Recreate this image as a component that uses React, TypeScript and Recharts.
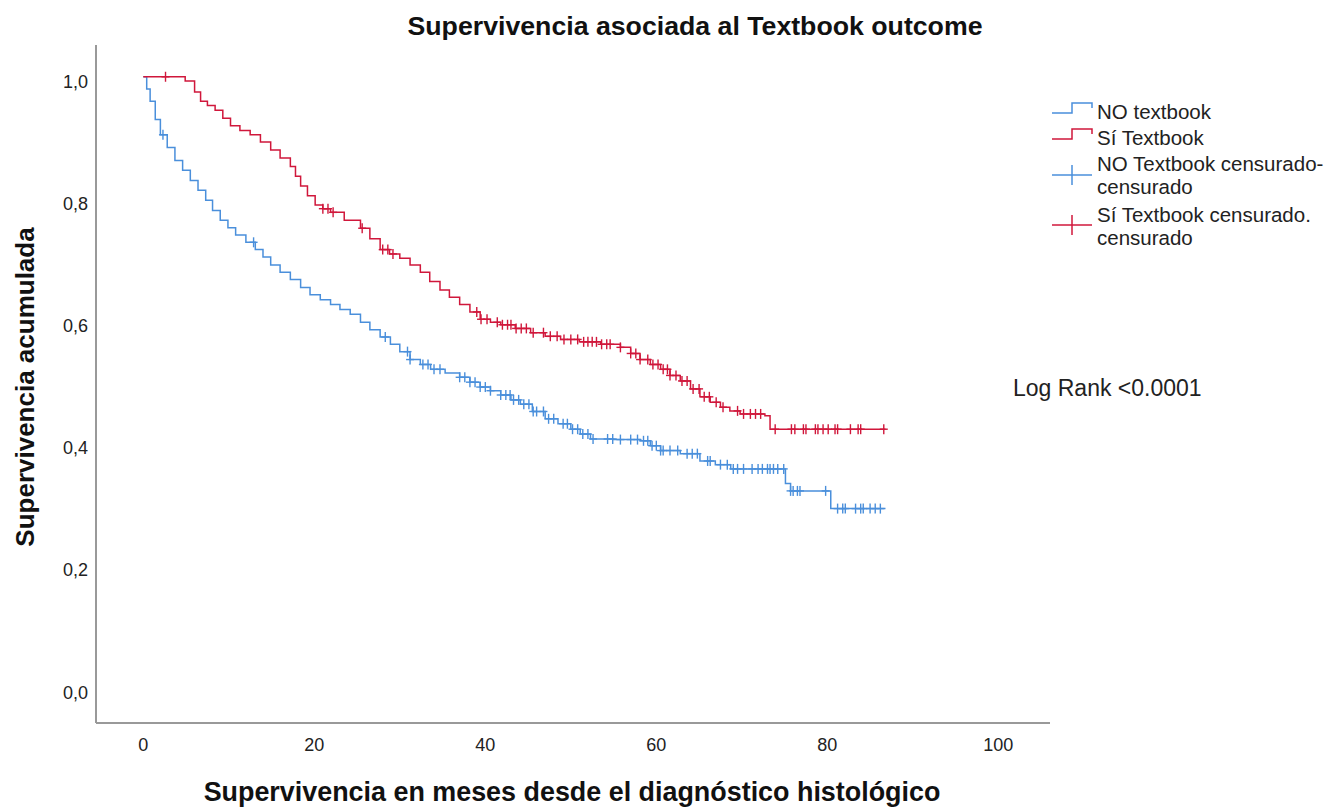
import React from "react";
import { ComposedChart, Line, Scatter, XAxis, YAxis } from "recharts";

// Kaplan-Meier step data
const redT = [0, 4.9, 6.0, 6.7, 7.5, 8.4, 9.3, 10.2, 11.3, 12.5, 13.7, 14.9, 16.0, 17.2, 17.8, 18.4, 19.2, 20.1, 21.0, 21.9, 23.5, 25.4, 26.5, 27.7, 28.8, 30.0, 31.2, 32.4, 33.5, 34.7, 35.8, 37.0, 38.2, 39.4, 40.6, 41.8, 43.5, 45.3, 47.0, 48.8, 51.0, 53.5, 55.8, 57.0, 58.1, 59.3, 60.5, 61.6, 62.8, 64.0, 65.1, 66.3, 67.5, 68.6, 69.8, 72.7, 73.3, 86.8];
const redS = [1.0, 0.993, 0.975, 0.96, 0.953, 0.945, 0.932, 0.92, 0.912, 0.905, 0.893, 0.88, 0.867, 0.853, 0.837, 0.821, 0.805, 0.79, 0.784, 0.778, 0.765, 0.752, 0.735, 0.717, 0.71, 0.703, 0.692, 0.68, 0.665, 0.651, 0.639, 0.627, 0.615, 0.603, 0.598, 0.594, 0.588, 0.581, 0.575, 0.57, 0.566, 0.562, 0.557, 0.547, 0.537, 0.529, 0.521, 0.511, 0.502, 0.489, 0.476, 0.467, 0.459, 0.453, 0.448, 0.445, 0.423, 0.423];

const blueT = [0, 0.4, 0.8, 1.4, 2.0, 2.8, 3.7, 4.6, 5.5, 6.4, 7.3, 8.1, 9.0, 9.9, 10.8, 12.0, 13.1, 14.0, 14.9, 16.0, 17.2, 18.4, 19.5, 20.7, 21.9, 23.0, 24.2, 25.4, 26.5, 27.7, 28.9, 30.0, 31.2, 32.4, 33.6, 35.3, 37.0, 38.2, 39.4, 40.6, 41.8, 43.0, 44.1, 45.5, 47.0, 48.5, 50.0, 51.1, 52.3, 55.0, 58.1, 59.3, 60.5, 62.8, 65.1, 66.9, 68.7, 74.5, 75.1, 75.7, 79.8, 80.4, 86.8];
const blueS = [1.0, 0.98, 0.96, 0.93, 0.905, 0.884, 0.863, 0.847, 0.83, 0.814, 0.798, 0.781, 0.765, 0.753, 0.741, 0.729, 0.717, 0.705, 0.692, 0.68, 0.668, 0.655, 0.643, 0.635, 0.627, 0.619, 0.611, 0.598, 0.586, 0.574, 0.562, 0.55, 0.537, 0.529, 0.521, 0.515, 0.508, 0.5, 0.492, 0.486, 0.479, 0.471, 0.464, 0.452, 0.44, 0.432, 0.423, 0.415, 0.407, 0.406, 0.404, 0.396, 0.388, 0.383, 0.371, 0.365, 0.358, 0.358, 0.334, 0.322, 0.322, 0.293, 0.293];

// Censored times
const redCensT = [2.6, 21.0, 21.6, 22.2, 25.6, 28.0, 28.6, 29.2, 39.0, 39.5, 40.2, 41.4, 42.0, 42.6, 43.0, 43.6, 44.2, 44.8, 45.6, 46.8, 47.6, 48.4, 49.2, 50.0, 50.8, 51.5, 52.0, 52.5, 53.0, 53.6, 54.2, 54.6, 55.8, 57.0, 57.6, 58.1, 59.0, 59.6, 60.2, 60.8, 61.3, 61.6, 62.3, 63.0, 63.6, 64.3, 65.0, 65.6, 66.2, 67.0, 67.8, 69.5, 70.2, 71.0, 71.6, 72.2, 73.9, 75.8, 76.2, 77.2, 77.5, 78.6, 78.9, 79.5, 80.1, 80.9, 81.2, 82.7, 83.6, 83.9, 86.6];
const blueCensT = [2.3, 12.9, 28.3, 30.9, 31.2, 32.7, 33.3, 34.0, 34.7, 37.0, 37.6, 38.2, 38.8, 39.4, 40.0, 40.6, 41.8, 42.4, 42.9, 43.3, 43.9, 44.5, 45.1, 45.6, 46.0, 46.8, 47.4, 48.0, 49.1, 49.6, 50.2, 50.8, 51.4, 52.0, 52.6, 54.3, 54.9, 55.8, 57.0, 57.8, 58.5, 59.0, 59.5, 60.0, 60.5, 60.8, 61.6, 62.5, 63.6, 64.2, 64.8, 66.0, 66.3, 67.5, 68.3, 69.0, 69.5, 70.2, 71.2, 71.9, 72.4, 73.0, 73.3, 73.7, 74.2, 74.9, 75.7, 76.0, 76.5, 76.8, 79.8, 81.2, 81.8, 82.1, 83.3, 83.9, 84.2, 85.0, 85.6, 86.2];

const xTicks = [0, 20, 40, 60, 80, 100];
const yTicks = [0, 0.2, 0.4, 0.6, 0.8, 1.0];

const legendLabels = ["NO textbook", "Sí Textbook", "NO Textbook censurado-", "censurado", "Sí Textbook censurado.", "censurado"];

const RED = "#d0173b";
const BLUE = "#4a8fdb";
const FONT = "'Liberation Sans', Arial, sans-serif";

const toData = (T: number[], S: number[]) => T.map((t, i) => ({ t, s: S[i] }));
const survAt = (T: number[], S: number[], t: number) => {
  let v = S[0];
  for (let i = 0; i < T.length; i++) if (T[i] <= t) v = S[i];
  return v;
};

const redData = toData(redT, redS);
const blueData = toData(blueT, blueS);
const redCens = redCensT.map((t) => ({ t, s: survAt(redT, redS, t) }));
const blueCens = blueCensT.map((t) => ({ t, s: survAt(blueT, blueS, t) }));

const makeCross = (color: string) => (props: any) => {
  const { cx, cy } = props;
  if (cx == null || cy == null) return <g />;
  return (
    <g stroke={color} strokeWidth={1.4}>
      <line x1={cx - 4} y1={cy} x2={cx + 4} y2={cy} />
      <line x1={cx} y1={cy - 5} x2={cx} y2={cy + 5} />
    </g>
  );
};

const YTick = (props: any) => {
  const { x, y, payload } = props;
  return (
    <text x={x} y={y + 11} textAnchor="end" fontSize={18} fontFamily={FONT} fill="#222">
      {payload.value.toFixed(1).replace(".", ",")}
    </text>
  );
};

const XTick = (props: any) => {
  const { x, y, payload } = props;
  return (
    <text x={x} y={y + 20} textAnchor="middle" fontSize={18} fontFamily={FONT} fill="#222">
      {payload.value}
    </text>
  );
};

const LegendBlock = () => {
  const t = (txt: string, y: number) => (
    <text x={1097} y={y} fontSize={20.5} fontFamily={FONT} fill="#222">{txt}</text>
  );
  return (
    <g>
      <polyline points="1052,113 1072,113 1072,103 1092,103 1092,108" fill="none" stroke={BLUE} strokeWidth={1.5} />
      {t(legendLabels[0], 119)}
      <polyline points="1052,139 1072,139 1072,129 1092,129 1092,134" fill="none" stroke={RED} strokeWidth={1.5} />
      {t(legendLabels[1], 145)}
      <line x1={1052} y1={175} x2={1092} y2={175} stroke={BLUE} strokeWidth={1.5} />
      <line x1={1072} y1={165} x2={1072} y2={185} stroke={BLUE} strokeWidth={1.5} />
      {t(legendLabels[2], 171)}
      {t(legendLabels[3], 194)}
      <line x1={1052} y1={225} x2={1092} y2={225} stroke={RED} strokeWidth={1.5} />
      <line x1={1072} y1={215} x2={1072} y2={235} stroke={RED} strokeWidth={1.5} />
      {t(legendLabels[4], 222)}
      {t(legendLabels[5], 245)}
    </g>
  );
};

export default function App() {
  return (
    <div style={{ position: "absolute", left: 0, top: 0, width: 1343, height: 807, background: "#fff" }}>
      <ComposedChart width={1343} height={807} margin={{ top: 45, right: 293, bottom: 54, left: 36 }}>
        <XAxis
          dataKey="t"
          type="number"
          domain={[-5.53, 106.04]}
          ticks={xTicks}
          allowDataOverflow
          tickLine={false}
          axisLine={{ stroke: "#999", strokeWidth: 2 }}
          tick={<XTick />}
          height={30}
        />
        <YAxis
          dataKey="s"
          type="number"
          domain={[-0.058, 1.052]}
          ticks={yTicks}
          allowDataOverflow
          tickLine={false}
          axisLine={{ stroke: "#999", strokeWidth: 2 }}
          tick={<YTick />}
          width={60}
        />
        <Line data={blueData} dataKey="s" type="stepAfter" stroke={BLUE} strokeWidth={1.5} dot={false} isAnimationActive={false} legendType="none" />
        <Line data={redData} dataKey="s" type="stepAfter" stroke={RED} strokeWidth={1.5} dot={false} isAnimationActive={false} legendType="none" />
        <Scatter data={blueCens} dataKey="s" shape={makeCross(BLUE)} isAnimationActive={false} legendType="none" />
        <Scatter data={redCens} dataKey="s" shape={makeCross(RED)} isAnimationActive={false} legendType="none" />
      </ComposedChart>
      <svg width={1343} height={807} style={{ position: "absolute", left: 0, top: 0, pointerEvents: "none" }}>
        <text x={695} y={35} textAnchor="middle" fontSize={26.7} fontWeight="bold" fontFamily={FONT} fill="#111">
          Supervivencia asociada al Textbook outcome
        </text>
        <text x={572} y={801} textAnchor="middle" fontSize={26.9} fontWeight="bold" fontFamily={FONT} fill="#111">
          Supervivencia en meses desde el diagnóstico histológico
        </text>
        <text x={34} y={387} textAnchor="middle" fontSize={26} fontWeight="bold" fontFamily={FONT} fill="#111" transform="rotate(-90 34 387)">
          Supervivencia acumulada
        </text>
        <text x={1013} y={396} fontSize={23} fontFamily={FONT} fill="#222">
          Log Rank &lt;0.0001
        </text>
        <LegendBlock />
      </svg>
    </div>
  );
}
